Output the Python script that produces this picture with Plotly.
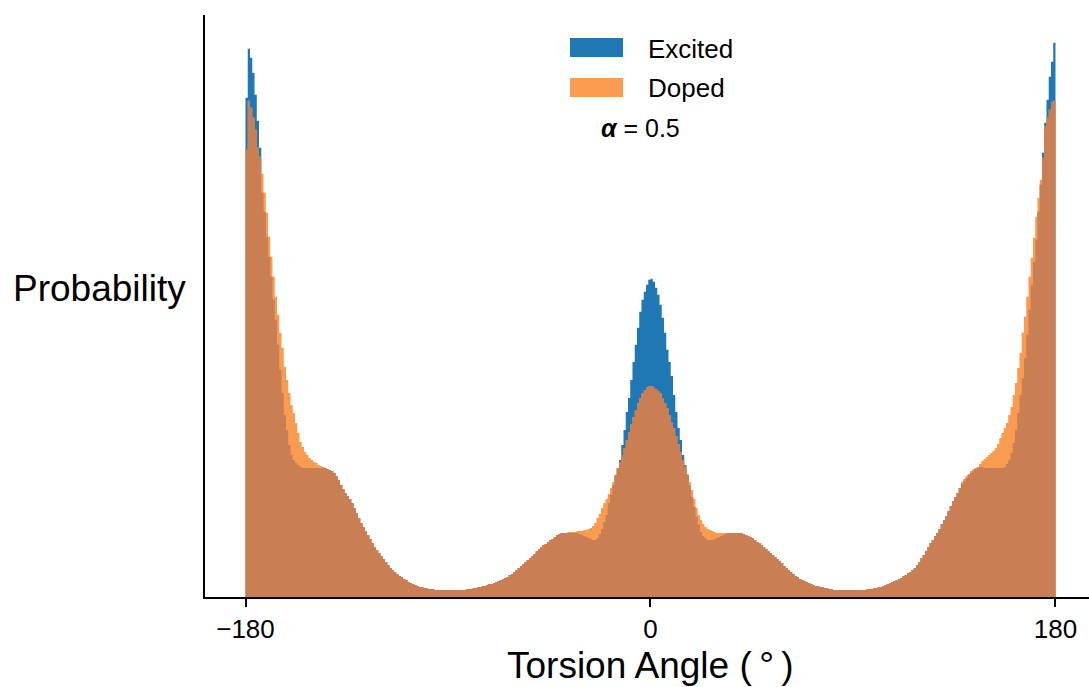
import plotly.graph_objects as go

# Histogram bins: left edges of 1-degree bins from -180 to 179
bin_left_edges = list(range(-180, 180))
bin_right_end = 180

# Excited (blue) histogram heights, rows of 10 bins
excited = [
    499, 548, 539, 524, 502, 476, 449, 404, 385, 360,   # -180..-171
    340, 320, 297, 277, 252, 227, 204, 182, 167, 152,   # -170..-161
    142, 137, 134, 132, 130, 129, 129, 129, 129, 129,   # -160..-151
    129, 129, 129, 129, 129, 129, 128, 127, 126, 124,   # -150..-141
    121, 117, 112, 108, 104, 101, 98, 94, 89, 84,       # -140..-131
    79, 74, 70, 66, 62, 58, 54, 50, 47, 44,             # -130..-121
    41, 38, 35, 32, 29, 27, 25, 23, 21, 20,             # -120..-111
    18, 17, 15, 14, 13, 12, 11, 10, 10, 9,              # -110..-101
    9, 8, 8, 8, 7, 7, 7, 7, 7, 7,                       # -100..-91
    7, 7, 7, 7, 7, 7, 7, 7, 8, 8,                       # -90..-81
    8, 9, 9, 10, 10, 11, 11, 12, 13, 13,                # -80..-71
    14, 15, 16, 17, 18, 19, 20, 22, 23, 25,             # -70..-61
    27, 29, 31, 33, 35, 37, 39, 41, 43, 46,             # -60..-51
    48, 50, 52, 53, 55, 57, 58, 60, 62, 63,             # -50..-41
    64, 64, 64, 64, 64, 64, 64, 64, 63, 62,             # -40..-31
    61, 60, 59, 58, 57, 57, 59, 63, 68, 75,             # -30..-21
    82, 94, 102, 112, 122, 129, 137, 152, 167, 185,     # -20..-11
    199, 217, 235, 252, 269, 285, 297, 305, 312, 317,   # -10..-1
    318, 315, 309, 302, 292, 279, 264, 247, 235, 221,   # 0..9
    202, 185, 169, 157, 142, 132, 122, 112, 100, 90,    # 10..19
    80, 72, 65, 61, 59, 57, 57, 57, 58, 59,             # 20..29
    60, 61, 62, 63, 64, 64, 64, 64, 64, 64,             # 30..39
    64, 63, 62, 61, 60, 59, 57, 55, 54, 52,             # 40..49
    50, 48, 46, 44, 42, 40, 38, 36, 34, 31,             # 50..59
    29, 27, 25, 23, 21, 20, 18, 17, 16, 15,             # 60..69
    14, 13, 12, 11, 11, 10, 10, 9, 9, 8,                # 70..79
    8, 7, 7, 7, 7, 7, 7, 7, 7, 7,                       # 80..89
    7, 7, 7, 7, 7, 7, 8, 8, 8, 9,                       # 90..99
    9, 10, 10, 11, 12, 13, 14, 15, 16, 17,              # 100..109
    18, 19, 21, 22, 24, 25, 27, 29, 32, 35,             # 110..119
    39, 42, 46, 50, 54, 57, 61, 64, 68, 73,             # 120..129
    77, 81, 86, 91, 96, 100, 104, 109, 113, 116,        # 130..139
    119, 122, 124, 126, 128, 129, 130, 130, 129, 129,   # 140..149
    129, 129, 129, 129, 129, 129, 129, 130, 133, 137,   # 150..159
    144, 154, 167, 184, 202, 219, 239, 262, 287, 312,   # 160..169
    335, 357, 385, 412, 444, 474, 497, 520, 535, 554,   # 170..179
]

# Doped (orange) histogram heights, rows of 10 bins
doped = [
    447, 496, 489, 479, 467, 449, 440, 423, 404, 384,   # -180..-171
    360, 340, 320, 300, 282, 264, 249, 230, 217, 204,   # -170..-161
    192, 184, 174, 164, 155, 150, 145, 142, 139, 137,   # -160..-151
    135, 134, 132, 131, 130, 129, 128, 127, 126, 124,   # -150..-141
    121, 117, 112, 108, 104, 101, 98, 94, 89, 84,       # -140..-131
    79, 74, 70, 66, 62, 58, 54, 50, 47, 44,             # -130..-121
    41, 38, 35, 32, 29, 27, 25, 23, 21, 20,             # -120..-111
    18, 17, 15, 14, 13, 12, 11, 10, 10, 9,              # -110..-101
    9, 8, 8, 8, 7, 7, 7, 7, 7, 7,                       # -100..-91
    7, 7, 7, 7, 7, 7, 7, 7, 8, 8,                       # -90..-81
    8, 9, 9, 10, 10, 11, 11, 12, 13, 13,                # -80..-71
    14, 15, 16, 17, 18, 19, 20, 22, 23, 25,             # -70..-61
    27, 29, 31, 33, 35, 37, 39, 41, 43, 46,             # -60..-51
    48, 50, 52, 53, 55, 57, 58, 60, 62, 63,             # -50..-41
    64, 64, 64, 65, 65, 65, 65, 66, 66, 66,             # -40..-31
    67, 67, 68, 69, 71, 74, 79, 83, 89, 94,             # -30..-21
    98, 103, 109, 115, 122, 129, 135, 142, 149, 157,    # -20..-11
    165, 173, 180, 187, 194, 199, 204, 207, 210, 211,   # -10..-1
    211, 210, 208, 206, 204, 199, 194, 189, 182, 175,   # 0..9
    169, 161, 153, 145, 137, 130, 123, 115, 107, 98,    # 10..19
    89, 82, 77, 73, 70, 68, 67, 66, 65, 64,             # 20..29
    64, 64, 64, 64, 64, 64, 64, 64, 64, 64,             # 30..39
    64, 63, 62, 61, 60, 59, 57, 55, 54, 52,             # 40..49
    50, 48, 46, 44, 42, 40, 38, 36, 34, 31,             # 50..59
    29, 27, 25, 23, 21, 20, 18, 17, 16, 15,             # 60..69
    14, 13, 12, 11, 11, 10, 10, 9, 9, 8,                # 70..79
    8, 7, 7, 7, 7, 7, 7, 7, 7, 7,                       # 80..89
    7, 7, 7, 7, 7, 7, 8, 8, 8, 9,                       # 90..99
    9, 10, 10, 11, 12, 13, 14, 15, 16, 17,              # 100..109
    18, 19, 21, 22, 24, 25, 27, 29, 32, 35,             # 110..119
    39, 42, 46, 50, 54, 57, 61, 64, 68, 73,             # 120..129
    77, 81, 86, 91, 96, 100, 104, 109, 115, 118,        # 130..139
    121, 123, 126, 128, 129, 130, 133, 136, 138, 140,   # 140..149
    142, 144, 146, 149, 153, 159, 164, 169, 174, 182,   # 150..159
    190, 202, 214, 229, 244, 264, 280, 300, 320, 339,   # 160..169
    359, 380, 399, 417, 439, 470, 479, 487, 495, 496,   # 170..179
]

assert len(excited) == len(bin_left_edges) == len(doped)

tick_values = [-180, 0, 180]
tick_labels = ["\u2212180", "0", "180"]
series_names = ["Excited", "Doped"]
series_colors = ["#1f77b4", "#f99c52"]
overlap_color = "#c97f53"
alpha_note = "<b><i>\u03b1</i></b> = 0.5"

FONT = "Liberation Sans, Arial, Helvetica, sans-serif"

# where the translucent orange histogram lies on the blue one, the mix colour shows
overlap = [min(a, b) for a, b in zip(excited, doped)]

fig = go.Figure()
edges_all = bin_left_edges + [bin_right_end]
for name, vals, col in zip(series_names + ["overlap"],
                           [excited, doped, overlap],
                           series_colors + [overlap_color]):
    fig.add_trace(go.Scatter(
        x=edges_all, y=vals + [vals[-1]], mode="lines", name=name,
        line=dict(width=0, shape="hv", color=col),
        fill="tozeroy", fillcolor=col,
        showlegend=False, hoverinfo="skip",
    ))

ymax = max(max(excited), max(doped)) * 1.05

fig.update_layout(
    width=1089, height=687,
    margin=dict(l=205, r=0, t=15, b=90),
    paper_bgcolor="white", plot_bgcolor="white",
    font=dict(family=FONT, color="black"),
    xaxis=dict(
        range=[-198, 194.9], tickvals=tick_values, ticktext=tick_labels,
        ticks="outside", ticklen=8, tickwidth=1.5, tickcolor="black",
        showline=True, linecolor="black", linewidth=2,
        showgrid=False, zeroline=False, tickfont=dict(size=26, family=FONT),
    ),
    yaxis=dict(
        range=[0, ymax], showticklabels=False, ticks="",
        showline=True, linecolor="black", linewidth=2,
        showgrid=False, zeroline=False,
    ),
)

# Axis titles (horizontal y label as in reference)
fig.add_annotation(text="Probability", xref="paper", yref="paper",
                   x=-0.019, y=0.53, xanchor="right", yanchor="middle",
                   showarrow=False, font=dict(size=37, family=FONT))
fig.add_annotation(text="Torsion Angle (\u2009\u00b0\u2009)", xref="paper", yref="paper",
                   x=0.5045, y=-0.117, xanchor="center", yanchor="middle",
                   showarrow=False, font=dict(size=37, family=FONT))

# Custom legend
legend_rows = [(0.9605, 0.9278, 0.9416), (0.8918, 0.8591, 0.8746)]
for (y0, y1, yt), name, col in zip(legend_rows, series_names, series_colors):
    fig.add_shape(type="rect", xref="paper", yref="paper",
                  x0=0.4129, x1=0.4729, y0=y1, y1=y0,
                  fillcolor=col, line=dict(width=0))
    fig.add_annotation(text=name, xref="paper", yref="paper",
                       x=0.4989, y=yt, xanchor="left", yanchor="middle",
                       showarrow=False, font=dict(size=26, family=FONT))
fig.add_annotation(text=alpha_note, xref="paper", yref="paper",
                   x=0.4921, y=0.806, xanchor="center", yanchor="middle",
                   showarrow=False, font=dict(size=25, family=FONT))

fig.write_html("out.html")
